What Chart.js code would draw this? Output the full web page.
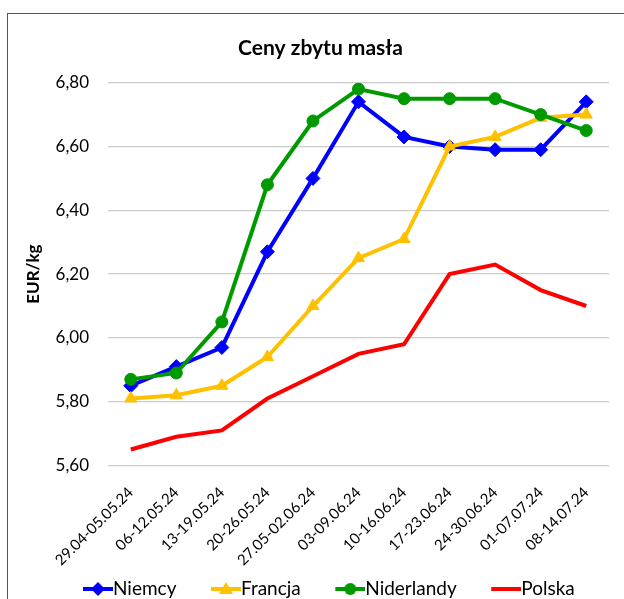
<!DOCTYPE html>
<html>
<head>
<meta charset="utf-8">
<script src="https://cdn.jsdelivr.net/npm/chart.js@4.4.1/dist/chart.umd.min.js"></script>
<style>
  html, body { margin: 0; padding: 0; background: #fff; overflow: hidden; }
  #wrap { width: 624px; height: 599px; }
</style>
</head>
<body>
<div id="wrap"><canvas id="chart"></canvas></div>
<script>
// Data
const weeks = ['29.04-05.05.24', '06-12.05.24', '13-19.05.24', '20-26.05.24', '27.05-02.06.24',
    '03-09.06.24', '10-16.06.24', '17-23.06.24', '24-30.06.24', '01-07.07.24', '08-14.07.24'];
const niemcy = [5.85, 5.91, 5.97, 6.27, 6.50, 6.74, 6.63, 6.60, 6.59, 6.59, 6.74];
const francja = [5.81, 5.82, 5.85, 5.94, 6.10, 6.25, 6.31, 6.60, 6.63, 6.69, 6.70];
const niderlandy = [5.87, 5.89, 6.05, 6.48, 6.68, 6.78, 6.75, 6.75, 6.75, 6.70, 6.65];
const polska = [5.65, 5.69, 5.71, 5.81, 5.88, 5.95, 5.98, 6.20, 6.23, 6.15, 6.10];
const yTicks = [5.6, 5.8, 6.0, 6.2, 6.4, 6.6, 6.8];

const FONT = 'Lato';

// small canvas with a line and a marker, used as legend symbol
function legendIcon(color, marker) {
    const c = document.createElement('canvas');
    c.width = 64;
    c.height = 16;
    const g = c.getContext('2d');
    g.strokeStyle = color;
    g.fillStyle = color;
    g.lineWidth = 4;
    g.beginPath();
    g.moveTo(34, 8);
    g.lineTo(64, 8);
    g.stroke();
    const cx = 49, cy = 8;
    g.beginPath();
    if (marker === 'diamond') {
        g.moveTo(cx, cy - 7); g.lineTo(cx + 7, cy); g.lineTo(cx, cy + 7); g.lineTo(cx - 7, cy);
        g.closePath(); g.fill();
    } else if (marker === 'triangle') {
        g.moveTo(cx, cy - 7); g.lineTo(cx + 7, cy + 5); g.lineTo(cx - 7, cy + 5);
        g.closePath(); g.fill();
    } else if (marker === 'circle') {
        g.arc(cx, cy, 6, 0, Math.PI * 2); g.fill();
    }
    return c;
}

// outer frame of the chart
const frame = {
    id: 'frame',
    beforeDraw(chart) {
        const ctx = chart.ctx;
        ctx.save();
        ctx.strokeStyle = '#555';
        ctx.lineWidth = 1;
        ctx.strokeRect(7.5, 13.5, 700, 700);
        ctx.restore();
    }
};

// the original chart was wider than the crop, so title and legend sit left of centre
const shiftBoxes = {
    id: 'shiftBoxes',
    afterLayout(chart) {
        const t = chart.titleBlock;
        const dt = 320.5 - (t.left + t.right) / 2;
        t.left += dt; t.right += dt;
        const l = chart.legend;
        const dl = 48.5 - l.left;
        l.left += dl; l.right += dl;
    }
};

const ctx = document.getElementById('chart').getContext('2d');

new Chart(ctx, {
    type: 'line',
    data: {
        labels: weeks,
        datasets: [
            {
                label: 'Niemcy', data: niemcy, order: 3, marker: 'diamond',
                borderColor: '#0000ff', backgroundColor: '#0000ff', borderWidth: 4,
                pointStyle: 'rectRot', pointRadius: 7, pointBorderWidth: 1
            },
            {
                label: 'Francja', data: francja, order: 2, marker: 'triangle',
                borderColor: '#ffc000', backgroundColor: '#ffc000', borderWidth: 4,
                pointStyle: 'triangle', pointRadius: 7, pointBorderWidth: 1
            },
            {
                label: 'Niderlandy', data: niderlandy, order: 1, marker: 'circle',
                borderColor: '#009900', backgroundColor: '#009900', borderWidth: 4,
                pointStyle: 'circle', pointRadius: 6, pointBorderWidth: 1
            },
            {
                label: 'Polska', data: polska, order: 0, marker: 'none',
                borderColor: '#ff0000', backgroundColor: '#ff0000', borderWidth: 4,
                pointRadius: 0
            }
        ]
    },
    options: {
        responsive: true,
        maintainAspectRatio: false,
        animation: false,
        layout: {
            padding: { left: 32, right: 15, top: 0, bottom: -9.5 }
        },
        scales: {
            x: {
                offset: true,
                grid: { display: false, drawTicks: false },
                border: { display: false },
                ticks: {
                    autoSkip: false,
                    minRotation: 45,
                    maxRotation: 45,
                    padding: 18,
                    color: '#000',
                    font: { family: FONT, size: 15 }
                },
                afterFit: s => { s.height = 104; }
            },
            y: {
                min: 5.6,
                max: 6.8,
                afterBuildTicks: s => { s.ticks = yTicks.map(v => ({ value: v })); },
                grid: { color: '#cccccc', lineWidth: 1.25, drawTicks: false },
                border: { display: false },
                ticks: {
                    padding: 19,
                    color: '#000',
                    font: { family: FONT, size: 17 },
                    callback: v => v.toFixed(2).replace('.', ',')
                },
                title: {
                    display: true,
                    text: 'EUR/kg',
                    color: '#000',
                    font: { family: FONT, size: 17, weight: 'bold' },
                    padding: { top: -9, bottom: 0 }
                },
                afterFit: s => { s.width = 76; }
            }
        },
        plugins: {
            title: {
                display: true,
                text: 'Ceny zbytu masła',
                color: '#000',
                font: { family: FONT, size: 21, weight: 'bold' },
                padding: { top: 35.4, bottom: 22.1 }
            },
            legend: {
                position: 'bottom',
                align: 'start',
                labels: {
                    usePointStyle: true,
                    pointStyleWidth: 45,
                    padding: 10,
                    color: '#000',
                    font: { family: FONT, size: 19 },
                    generateLabels: chart => chart.data.datasets.map((ds, i) => ({
                        text: ds.label,
                        pointStyle: legendIcon(ds.borderColor, ds.marker),
                        fillStyle: ds.borderColor,
                        strokeStyle: ds.borderColor,
                        lineWidth: 0,
                        fontColor: '#000',
                        hidden: false,
                        datasetIndex: i
                    }))
                }
            },
            tooltip: { enabled: false }
        }
    },
    plugins: [frame, shiftBoxes]
});
</script>
</body>
</html>
